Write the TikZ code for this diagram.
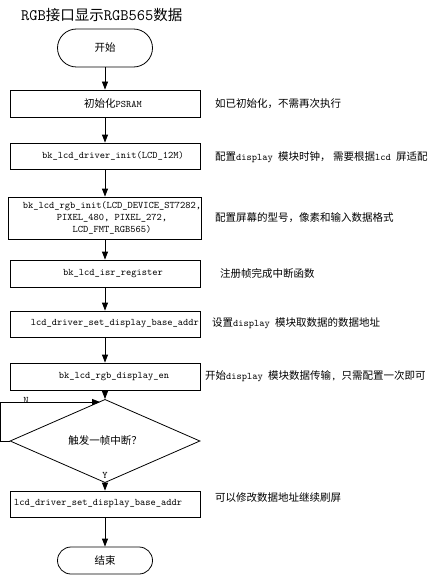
\documentclass[tikz,border=0pt]{standalone}
\usepackage{fontspec}
\usetikzlibrary{arrows.meta,shapes.geometric,shapes.misc}
\newfontfamily\cjk{Noto Sans CJK SC}
\newcommand\code{\ttfamily}
\newcommand\zh[1]{{\cjk\fontsize{10.5}{12}\selectfont #1}}
\newcommand\tzh[1]{{\cjk\fontsize{14.5}{16}\selectfont #1}}
\newcommand\tla[1]{{\code\fontsize{16}{16}\selectfont #1}}
\newcommand\sh[1]{\hspace*{#1pt}}
\begin{document}
\begin{tikzpicture}[x=1pt,y=-1pt,
  every node/.style={font=\code\fontsize{10}{12}\selectfont, inner sep=0pt},
  proc/.style={draw, line width=0.8pt, minimum width=190pt, align=center},
  term/.style={draw, line width=0.8pt, rounded rectangle, minimum width=95pt},
  dec/.style={draw, diamond, line width=0.8pt, minimum width=190pt, minimum height=35pt},
  note/.style={anchor=west},
  flow/.style={line width=0.8pt, -{Triangle[length=8pt,width=6pt]}}
]
\useasboundingbox (0,0) rectangle (439,575);
\node[anchor=west] (title) at (21,15) {\tla{RGB}\tzh{接口显示}\tla{RGB565}\tzh{数据}};

\node[term, minimum height=38pt] (start) at (105,48) {\zh{开始}};
\node[proc, minimum height=27pt] (b1) at (105,103.5) {\sh{16}\zh{初始化}PSRAM};
\node[proc, minimum height=26pt] (b2) at (105,156) {\sh{16}bk\_lcd\_driver\_init(LCD\_12M)};
\node[proc, minimum height=42pt] (b3) at (105,218) {\sh{14}bk\_lcd\_rgb\_init(LCD\_DEVICE\_ST7282,\\ \sh{14}PIXEL\_480, PIXEL\_272,\\ \sh{14}LCD\_FMT\_RGB565)};
\node[proc, minimum height=27pt] (b4) at (105,273.5) {\sh{16}bk\_lcd\_isr\_register};
\node[proc, minimum height=26pt] (b5) at (105,324) {\sh{20}lcd\_driver\_set\_display\_base\_addr};
\node[proc, minimum height=27pt] (b6) at (105,376.5) {\sh{18}bk\_lcd\_rgb\_display\_en};
\node[dec] (dia) at (105,441) {\zh{触发一帧中断？}};
\node[proc, minimum height=26pt] (b7) at (105,504) {\sh{-14}lcd\_driver\_set\_display\_base\_addr};
\node[term, minimum height=27pt] (end) at (105,560.5) {\zh{结束}};

\node[note] (n1) at (215,104) {\zh{如已初始化，不需再次执行}};
\node[note] (n2) at (215,157) {\zh{配置}display \zh{模块时钟，\ 需要根据}lcd \zh{屏适配}};
\node[note] (n3) at (215,218) {\zh{配置屏幕的型号，像素和输入数据格式}};
\node[note] (n4) at (220,273) {\zh{注册帧完成中断函数}};
\node[note] (n5) at (212,323) {\zh{设置}display \zh{模块取数据的数据地址}};
\node[note] (n6) at (205,376) {\zh{开始}display \zh{模块数据传输}, \zh{只需配置一次即可}};
\node[note] (n7) at (215,498) {\zh{可以修改数据地址继续刷屏}};

\draw[flow] (start.south) -- (b1.north);
\draw[flow] (b1.south) -- (b2.north);
\draw[flow] (b2.south) -- (b3.north);
\draw[flow] (b3.south) -- (b4.north);
\draw[flow] (b4.south) -- (b5.north);
\draw[flow] (b5.south) -- (b6.north);
\draw[flow] (b6.south) -- (dia.north);
\draw[flow] (dia.south) -- (b7.north);
\draw[flow] (b7.south) -- (end.north);
\coordinate (nend) at (100,402);
\draw[flow] (dia.west) -- ++(-9,0) |- (nend);
\node (nlab) at (26,400) {N};
\node (ylab) at (105,475) {Y};
\end{tikzpicture}
\end{document}
